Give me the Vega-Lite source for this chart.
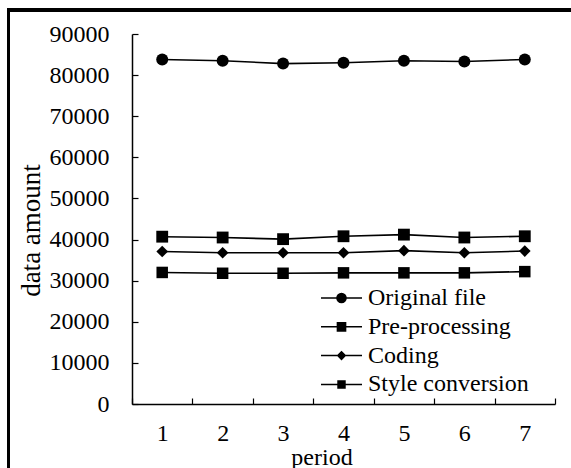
{
  "$schema": "https://vega.github.io/schema/vega-lite/v6.json",
  "width": 423,
  "height": 370,
  "autosize": {"type": "none"},
  "padding": {"left": 132, "top": 34, "right": 16, "bottom": 64},
  "background": "white",
  "config": {
    "view": {"stroke": null},
    "font": "Liberation Serif",
    "axis": {
      "labelFont": "Liberation Serif",
      "titleFont": "Liberation Serif",
      "labelColor": "black",
      "titleColor": "black",
      "domainColor": "black",
      "tickColor": "black",
      "domainWidth": 1.5,
      "tickWidth": 1.2,
      "grid": false,
      "labelFontSize": 24,
      "titleFontWeight": "normal"
    },
    "legend": {
      "labelFont": "Liberation Serif",
      "labelFontSize": 24,
      "labelColor": "black",
      "labelLimit": 0
    }
  },
  "data": {
    "values": [
      {"period": "1", "series": "Original file", "amount": 83800},
      {"period": "2", "series": "Original file", "amount": 83500},
      {"period": "3", "series": "Original file", "amount": 82800},
      {"period": "4", "series": "Original file", "amount": 83000},
      {"period": "5", "series": "Original file", "amount": 83500},
      {"period": "6", "series": "Original file", "amount": 83300},
      {"period": "7", "series": "Original file", "amount": 83800},
      {"period": "1", "series": "Pre-processing", "amount": 40700},
      {"period": "2", "series": "Pre-processing", "amount": 40500},
      {"period": "3", "series": "Pre-processing", "amount": 40100},
      {"period": "4", "series": "Pre-processing", "amount": 40800},
      {"period": "5", "series": "Pre-processing", "amount": 41200},
      {"period": "6", "series": "Pre-processing", "amount": 40500},
      {"period": "7", "series": "Pre-processing", "amount": 40800},
      {"period": "1", "series": "Coding", "amount": 37100},
      {"period": "2", "series": "Coding", "amount": 36800},
      {"period": "3", "series": "Coding", "amount": 36800},
      {"period": "4", "series": "Coding", "amount": 36800},
      {"period": "5", "series": "Coding", "amount": 37300},
      {"period": "6", "series": "Coding", "amount": 36800},
      {"period": "7", "series": "Coding", "amount": 37200},
      {"period": "1", "series": "Style conversion", "amount": 32000},
      {"period": "2", "series": "Style conversion", "amount": 31800},
      {"period": "3", "series": "Style conversion", "amount": 31800},
      {"period": "4", "series": "Style conversion", "amount": 31900},
      {"period": "5", "series": "Style conversion", "amount": 31900},
      {"period": "6", "series": "Style conversion", "amount": 31900},
      {"period": "7", "series": "Style conversion", "amount": 32200}
    ]
  },
  "layer": [
    {
      "mark": {"type": "rect", "filled": false, "stroke": "black", "strokeWidth": 2.5},
      "encoding": {
        "x": {"datum": -0.2915, "type": "quantitative", "scale": {"domain": [0, 1]}, "axis": null},
        "x2": {"datum": 1.3},
        "y": {"datum": 95838, "type": "quantitative", "scale": {"domain": [0, 90000], "nice": false}},
        "y2": {"datum": -30000}
      }
    },
    {
      "layer": [
        {
          "mark": {"type": "line", "color": "black", "strokeWidth": 1.6},
          "encoding": {
            "x": {
              "field": "period", "type": "ordinal",
              "scale": {"type": "band", "paddingInner": 0, "paddingOuter": 0},
              "axis": {
                "title": "period",
                "labelAngle": 0,
                "tickBand": "extent",
                "tickSize": -6,
                "labelPadding": 23,
                "titleFontSize": 24,
                "titleX": 189.5,
                "titleY": 60,
                "titleBaseline": "alphabetic",
                "titleAnchor": "middle",
                "titleAlign": "center"
              }
            },
            "y": {
              "field": "amount", "type": "quantitative",
              "scale": {"domain": [0, 90000], "nice": false},
              "axis": {
                "title": "data amount",
                "values": [0, 10000, 20000, 30000, 40000, 50000, 60000, 70000, 80000, 90000],
                "format": "d",
                "tickSize": -6,
                "labelPadding": 29,
                "titleFontSize": 27,
                "titleX": -93,
                "titleY": 196,
                "titleBaseline": "alphabetic",
                "titleAlign": "center",
                "titleAngle": -90
              }
            },
            "detail": {"field": "series"}
          }
        },
        {
          "mark": {"type": "point", "filled": true, "color": "black", "opacity": 1, "strokeWidth": 0},
          "encoding": {
            "x": {"field": "period", "type": "ordinal"},
            "y": {"field": "amount", "type": "quantitative"},
            "shape": {
              "field": "series", "type": "nominal",
              "scale": {"domain": ["Original file", "Pre-processing", "Coding", "Style conversion"], "range": ["circle", "square", "diamond", "square"]},
              "legend": null
            },
            "size": {
              "field": "series", "type": "nominal",
              "scale": {"domain": ["Original file", "Pre-processing", "Coding", "Style conversion"], "range": [144, 132, 121, 100]},
              "legend": null
            }
          }
        },
        {
          "mark": {"type": "point", "filled": false, "color": "black", "strokeWidth": 1.5, "opacity": 0},
          "encoding": {
            "x": {"field": "period", "type": "ordinal"},
            "y": {"field": "amount", "type": "quantitative"},
            "shape": {
              "field": "series", "type": "nominal",
              "scale": {
                "domain": ["Original file", "Pre-processing", "Coding", "Style conversion"],
                "range": [
                  "M-1.71,0H1.71M0.38,0A0.38,0.38,0,1,1,-0.38,0A0.38,0.38,0,1,1,0.38,0M0.27,0A0.27,0.27,0,1,1,-0.27,0A0.27,0.27,0,1,1,0.27,0M0.16,0A0.16,0.16,0,1,1,-0.16,0A0.16,0.16,0,1,1,0.16,0M0.06,0A0.06,0.06,0,1,1,-0.06,0A0.06,0.06,0,1,1,0.06,0",
                  "M-1.71,0H1.71M-0.34,-0.34H0.34V0.34H-0.34ZM-0.23,-0.23H0.23V0.23H-0.23ZM-0.12,-0.12H0.12V0.12H-0.12ZM-0.02,-0.02H0.02V0.02H-0.02Z",
                  "M-1.71,0H1.71M0,-0.31L0.31,0L0,0.31L-0.31,0ZM0,-0.2L0.2,0L0,0.2L-0.2,0ZM0,-0.09L0.09,0L0,0.09L-0.09,0Z",
                  "M-1.71,0H1.71M-0.29,-0.29H0.29V0.29H-0.29ZM-0.18,-0.18H0.18V0.18H-0.18ZM-0.07,-0.07H0.07V0.07H-0.07Z"
                ]
              },
              "legend": {
                "title": null,
                "orient": "none",
                "legendX": 196.5,
                "legendY": 251,
                "symbolSize": 576,
                "symbolOpacity": 1,
                "symbolStrokeColor": "black",
                "symbolStrokeWidth": 1.5,
                "labelOffset": 13.5,
                "rowPadding": 3.8,
                "padding": 0,
                "encode": {
                  "symbols": {
                    "update": {
                      "fill": {"value": "black"},
                      "fillOpacity": {"value": 1}
                    }
                  }
                }
              }
            }
          }
        }
      ],
      "resolve": {"scale": {"shape": "independent", "size": "independent"}}
    }
  ],
  "resolve": {"scale": {"x": "independent"}}
}
